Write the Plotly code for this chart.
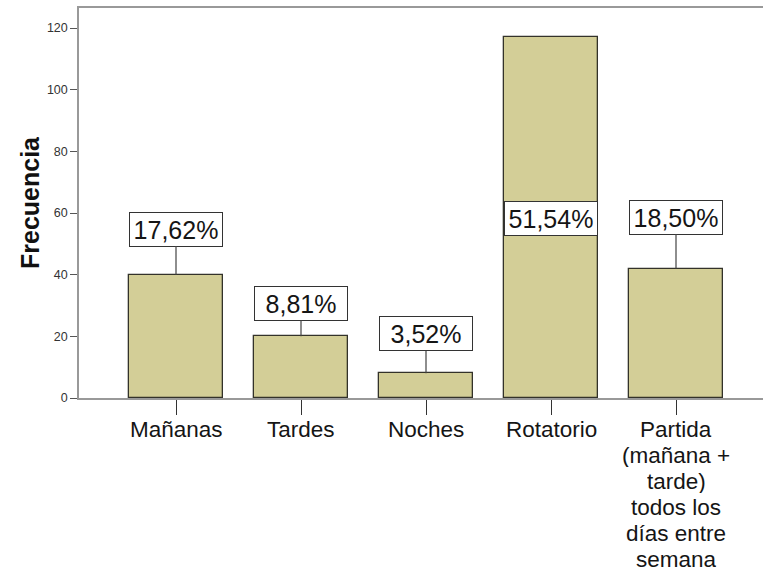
import plotly.graph_objects as go

# Turno de trabajo: frecuencias y porcentajes
categorias = ["Mañanas", "Tardes", "Noches", "Rotatorio",
              "Partida<br>(mañana +<br>tarde)<br>todos los<br>días entre<br>semana"]
frecuencias = [40, 20, 8, 117, 42]
porcentajes = ["17,62%", "8,81%", "3,52%", "51,54%", "18,50%"]

# altura (en unidades del eje) donde se centra cada etiqueta de porcentaje
altura_etiqueta = [54.8, 30.7, 20.8, 58.2, 58.7]
# etiquetas que llevan línea de unión con la barra
con_linea = [True, True, True, False, True]

ticks_y = [0, 20, 40, 60, 80, 100, 120]

FONT = "Arial, Liberation Sans, sans-serif"
x = list(range(len(categorias)))

fig = go.Figure()
fig.add_trace(go.Bar(
    x=x, y=frecuencias, width=0.752,
    marker=dict(color="#D3CE97", line=dict(color="#33322a", width=1.3)),
    hoverinfo="skip",
))

annotations = []
for i, (v, p, h, ln) in enumerate(zip(frecuencias, porcentajes, altura_etiqueta, con_linea)):
    caja = dict(
        text=p,
        font=dict(family=FONT, size=25, color="#151515"),
        bgcolor="white", bordercolor="#333333", borderwidth=1,
        borderpad=1, width=90, height=31,
    )
    if ln:
        annotations.append(dict(
            x=i, y=v, xref="x", yref="y",
            ax=i, ay=h, axref="x", ayref="y",
            showarrow=True, arrowhead=0, arrowwidth=1.2,
            arrowcolor="#444444", standoff=0, startstandoff=0, **caja,
        ))
    else:
        annotations.append(dict(x=i, y=h, xref="x", yref="y",
                                showarrow=False, **caja))

# etiquetas de categoría, una línea por anotación con interlineado compacto
INTERLINEA = 26
for i, cat in enumerate(categorias):
    for j, linea in enumerate(cat.split("<br>")):
        annotations.append(dict(
            x=i, y=0, xref="x", yref="paper",
            text=linea, showarrow=False, yanchor="middle",
            yshift=-31 - INTERLINEA * j, height=24, borderpad=0,
            font=dict(family=FONT, size=22.5, color="#151515"),
        ))

# título del eje Y
annotations.append(dict(
    x=0, y=0.5, xref="paper", yref="paper", xanchor="center", yanchor="middle",
    xshift=-49, text="<b>Frecuencia</b>", textangle=-90, showarrow=False,
    font=dict(family=FONT, size=25, color="#111111"),
))

fig.update_layout(
    width=763, height=574,
    margin=dict(l=79, r=0, t=8, b=176),
    paper_bgcolor="white", plot_bgcolor="white",
    showlegend=False, bargap=0,
    annotations=annotations,
    xaxis=dict(
        range=[-0.776, 4.696], tickvals=x, showticklabels=False,
        ticks="outside", ticklen=15, tickcolor="#333333", tickwidth=1,
        showline=True, linecolor="#999999", linewidth=1.5, mirror=True,
        showgrid=False, zeroline=False, fixedrange=True,
    ),
    yaxis=dict(
        range=[0, 126.5], tickvals=ticks_y,
        ticks="outside", ticklen=7, tickcolor="#555555", tickwidth=1,
        tickfont=dict(family=FONT, size=12.5, color="#333333"),
        showline=True, linecolor="#999999", linewidth=1.5,
        showgrid=False, zeroline=False, fixedrange=True,
    ),
)

fig.write_html("out.html")
